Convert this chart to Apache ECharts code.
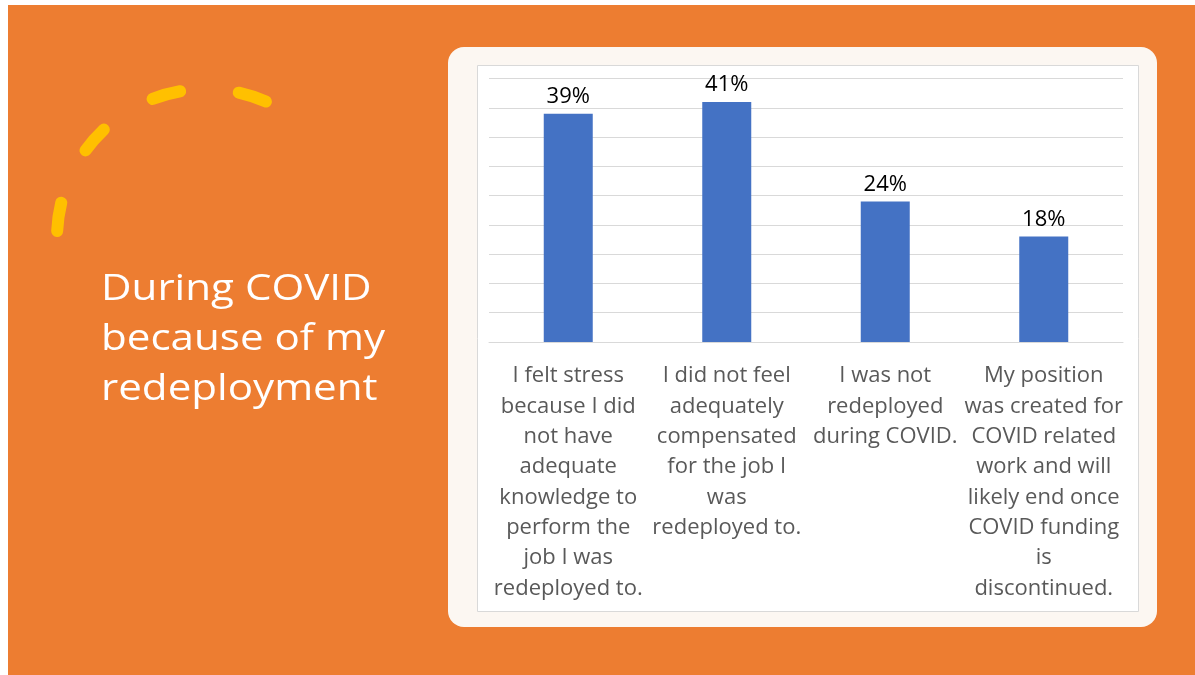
<!DOCTYPE html>
<html>
<head>
<meta charset="utf-8">
<title>During COVID because of my redeployment</title>
<script src="https://cdn.jsdelivr.net/npm/echarts@6/dist/echarts.min.js"></script>
<style>
  html, body { margin: 0; padding: 0; background: #ffffff; }
  #chart { width: 1195px; height: 675px; }
</style>
</head>
<body>
<div id="chart"></div>
<script>
// Survey responses (share of respondents, %)
const categories = [
  'I felt stress\nbecause I did\nnot have\nadequate\nknowledge to\nperform the\njob I was\nredeployed to.',
  'I did not feel\nadequately\ncompensated\nfor the job I\nwas\nredeployed to.',
  'I was not\nredeployed\nduring COVID.',
  'My position\nwas created for\nCOVID related\nwork and will\nlikely end once\nCOVID funding\nis\ndiscontinued.'
];
const shares = [39, 41, 24, 18];
const titleLines = ['During COVID', 'because of my', 'redeployment'];

const ORANGE = '#ED7D31';
const GOLD = '#FFC000';
const FONT = '"Open Sans", "Noto Sans", sans-serif';

// Dashed decorative arc: each dash is a short arc segment with round caps
const arcCenter = [206, 238];
const arcRadius = 149;
const dashAngles = [[182.7, 193.7], [216, 226.7], [249, 260], [282.7, 293.7]];
const toRad = d => d * Math.PI / 180;

const graphics = [
  { type: 'rect', z: -20, shape: { x: 8, y: 5, width: 1187, height: 670 }, style: { fill: ORANGE } },
  { type: 'rect', z: -19, shape: { x: 448, y: 47, width: 709, height: 580, r: 16 }, style: { fill: '#FCF7F2' } },
  { type: 'rect', z: -18, shape: { x: 477.5, y: 65.5, width: 661, height: 546 }, style: { fill: '#ffffff', stroke: '#D9D9D9', lineWidth: 1 } }
];
dashAngles.forEach(a => {
  graphics.push({
    type: 'arc', z: -17,
    shape: { cx: arcCenter[0], cy: arcCenter[1], r: arcRadius, startAngle: toRad(a[0]), endAngle: toRad(a[1]), clockwise: true },
    style: { stroke: GOLD, lineWidth: 12, lineCap: 'round', fill: null }
  });
});
// Slide heading, slightly widened to the condensed slide typeface proportions
titleLines.forEach((t, i) => {
  graphics.push({
    type: 'text', z: -16, x: 101, y: 272 + i * 50, scaleX: 1.17,
    style: { text: t, fill: '#ffffff', font: '36px ' + FONT }
  });
});

const chart = echarts.init(document.getElementById('chart'), null, { renderer: 'canvas' });
chart.setOption({
  animation: false,
  backgroundColor: 'transparent',
  graphic: graphics,
  grid: { left: 489, right: 72, top: 78.5, bottom: 333, containLabel: false },
  xAxis: {
    type: 'category',
    data: categories,
    axisLine: { show: true, lineStyle: { color: '#D9D9D9', width: 1 } },
    axisTick: { show: false },
    axisLabel: {
      interval: 0, margin: 19, color: '#595959', fontSize: 22, lineHeight: 30.3,
      fontFamily: FONT, align: 'center'
    }
  },
  yAxis: {
    type: 'value', min: 0, max: 45, interval: 5,
    axisLabel: { show: false },
    axisLine: { show: false },
    axisTick: { show: false },
    splitLine: { show: true, lineStyle: { color: '#D9D9D9', width: 1 } }
  },
  series: [{
    type: 'bar',
    data: shares,
    barWidth: 49,
    itemStyle: { color: '#4472C4' },
    label: {
      show: true, position: 'top', distance: 6,
      formatter: '{c}%', color: '#000000', fontSize: 22, fontFamily: FONT
    }
  }]
});
</script>
</body>
</html>
